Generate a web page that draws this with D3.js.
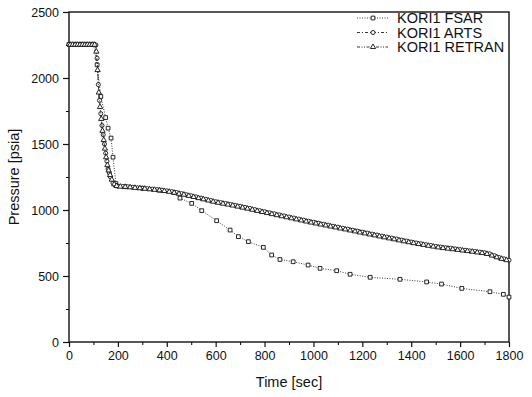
<!DOCTYPE html>
<html>
<head>
<meta charset="utf-8">
<script src="https://cdn.jsdelivr.net/npm/d3@7"></script>
<style>
body { margin: 0; background: #fff; }
text { font-family: "Liberation Sans", Arial, sans-serif; fill: #111; }
</style>
</head>
<body>
<svg id="chart" width="532" height="397"></svg>
<script>
// values
const seriesNames = ["KORI1 FSAR", "KORI1 ARTS", "KORI1 RETRAN"];
const xTicks = [0, 200, 400, 600, 800, 1000, 1200, 1400, 1600, 1800];
const yTicks = [0, 500, 1000, 1500, 2000, 2500];

// FSAR - sparse squares, the lower curve
const fsarTime = [0, 50, 100, 115, 130, 150, 160, 172, 180, 192, 230, 300, 370, 430, 454, 502, 543, 604, 659, 693, 734, 795, 829, 863, 917, 978, 1027, 1095, 1150, 1232, 1354, 1463, 1524, 1607, 1722, 1777, 1800];
const fsarPress = [2255, 2255, 2255, 2100, 1860, 1700, 1620, 1545, 1400, 1200, 1176, 1165, 1150, 1132, 1090, 1050, 995, 919, 848, 798, 760, 717, 659, 625, 608, 583, 558, 540, 513, 490, 475, 455, 439, 406, 381, 361, 340];

// ARTS - dense circles, the upper curve
const artsTime = [0, 10, 20, 30, 40, 50, 60, 70, 80, 90, 100, 110, 115, 120, 125, 130, 135, 140, 145, 150, 155, 160, 165, 170, 180, 190,
  200, 220, 240, 260, 280, 300, 320, 340, 360, 380, 400, 420, 440, 460, 480, 500, 520, 540, 560, 580, 600, 620, 640, 660, 680, 700,
  720, 740, 760, 780, 800, 820, 840, 860, 880, 900, 920, 940, 960, 980, 1000, 1020, 1040, 1060, 1080, 1100, 1120, 1140, 1160, 1180, 1200,
  1220, 1240, 1260, 1280, 1300, 1320, 1340, 1360, 1380, 1400, 1420, 1440, 1460, 1480, 1500, 1520, 1540, 1560, 1580, 1600,
  1620, 1640, 1660, 1680, 1700, 1720, 1740, 1760, 1780, 1800];
const artsPress = [2255, 2255, 2255, 2255, 2255, 2255, 2255, 2255, 2255, 2255, 2255, 2250, 2150, 1950, 1830, 1730, 1640, 1570, 1500, 1430, 1370, 1310, 1280, 1250, 1205, 1185,
  1180, 1178, 1176, 1172, 1168, 1165, 1162, 1158, 1154, 1150, 1145, 1139, 1132, 1124, 1116, 1108, 1099, 1090, 1081, 1072, 1063, 1056, 1049, 1042, 1035, 1028,
  1020, 1012, 1003, 995, 987, 979, 971, 963, 955, 947, 939, 931, 923, 915, 907, 900, 892, 885, 877, 870, 862, 855, 847, 840, 832,
  825, 817, 810, 802, 795, 787, 780, 772, 765, 757, 750, 744, 737, 731, 724, 719, 714, 710, 705, 700,
  695, 690, 686, 681, 676, 668, 654, 640, 630, 620];

// RETRAN - dense triangles, lies on top of ARTS
const retranTime = [5, 15, 25, 35, 45, 55, 65, 75, 85, 95, 105, 112, 117, 122, 127, 132, 137, 142, 147, 152, 157, 162, 168, 175, 185, 195,
  210, 230, 250, 270, 290, 310, 330, 350, 370, 390, 410, 430, 450, 470, 490, 510, 530, 550, 570, 590, 610, 630, 650, 670, 690,
  710, 730, 750, 770, 790, 810, 830, 850, 870, 890, 910, 930, 950, 970, 990, 1010, 1030, 1050, 1070, 1090, 1110, 1130, 1150, 1170, 1190,
  1210, 1230, 1250, 1270, 1290, 1310, 1330, 1350, 1370, 1390, 1410, 1430, 1450, 1470, 1490, 1510, 1530, 1550, 1570, 1590,
  1610, 1630, 1650, 1670, 1690, 1710, 1730, 1750, 1770, 1790];
const retranPress = [2252, 2252, 2252, 2252, 2252, 2252, 2252, 2252, 2252, 2252, 2252, 2200, 2060, 1890, 1780, 1690, 1600, 1530, 1465, 1400, 1340, 1300, 1265, 1230, 1195, 1182,
  1177, 1175, 1172, 1168, 1165, 1161, 1157, 1153, 1149, 1144, 1138, 1131, 1123, 1116, 1107, 1099, 1090, 1081, 1072, 1063, 1055, 1048, 1041, 1034, 1026,
  1018, 1010, 1002, 993, 985, 977, 969, 961, 953, 945, 937, 929, 921, 913, 905, 898, 890, 883, 875, 868, 860, 853, 845, 838, 830,
  823, 815, 808, 800, 793, 785, 778, 770, 763, 756, 749, 742, 736, 729, 723, 717, 712, 707, 703, 698,
  693, 689, 684, 679, 674, 667, 655, 642, 630, 620];

const series = [
  {name: seriesNames[0], t: fsarTime, p: fsarPress, symbol: d3.symbolSquare, size: 14, dash: "1,1.5"},
  {name: seriesNames[1], t: artsTime, p: artsPress, symbol: d3.symbolCircle, size: 13, dash: "3,2,1,2"},
  {name: seriesNames[2], t: retranTime, p: retranPress, symbol: d3.symbolTriangle, size: 12, dash: "3,1.5,1,1.5,1,1.5"}
];

let svg = d3.select("#chart");
let margin = {left: 69, top: 12, right: 23, bottom: 55};
let width = +svg.attr("width") - margin.left - margin.right;
let height = +svg.attr("height") - margin.top - margin.bottom;

let x = d3.scaleLinear().domain([0, 1800]).range([0, width]);
let y = d3.scaleLinear().domain([0, 2500]).range([height, 0]);

let g = svg.append("g").attr("transform", `translate(${margin.left}, ${margin.top})`);

// minor ticks first, then the labelled ones
g.append("g")
  .attr("transform", `translate(0, ${height})`)
  .call(d3.axisBottom(x).tickValues(d3.range(100, 1800, 200)).tickSize(3).tickFormat(""))
  .call(a => a.select(".domain").remove());
g.append("g")
  .call(d3.axisLeft(y).tickValues(d3.range(250, 2500, 500)).tickSize(3).tickFormat(""))
  .call(a => a.select(".domain").remove());

let xAxis = g.append("g")
  .attr("transform", `translate(0, ${height})`)
  .call(d3.axisBottom(x).tickValues(xTicks).tickSize(5).tickPadding(4).tickFormat(d3.format("d")));
let yAxis = g.append("g")
  .call(d3.axisLeft(y).tickValues(yTicks).tickSize(6).tickPadding(4).tickFormat(d3.format("d")));

for (let a of [xAxis, yAxis]) {
  a.selectAll("text").style("font-size", "12.5px").attr("font-family", null);
  a.selectAll("line").attr("stroke", "#111").attr("stroke-width", 1.2);
  a.select(".domain").remove();
}

// frame
g.append("rect")
  .attr("width", width).attr("height", height)
  .attr("fill", "none").attr("stroke", "#111").attr("stroke-width", 1.4);

let line = d3.line().x(d => x(d[0])).y(d => y(d[1]));

for (let s of series) {
  let pts = s.t.map((t, i) => [t, s.p[i]]);
  g.append("path")
    .datum(pts)
    .attr("d", line)
    .attr("fill", "none")
    .attr("stroke", "#222")
    .attr("stroke-width", 0.9)
    .attr("stroke-dasharray", s.dash);
  g.selectAll(null)
    .data(pts)
    .enter()
    .append("path")
    .attr("transform", d => `translate(${x(d[0])}, ${y(d[1])})`)
    .attr("d", d3.symbol().type(s.symbol).size(s.size))
    .attr("fill", "#fff")
    .attr("stroke", "#111")
    .attr("stroke-width", 0.9);
}

// legend
let legend = g.append("g").attr("transform", `translate(${357 - margin.left}, ${18 - margin.top})`);
series.forEach((s, i) => {
  let row = legend.append("g").attr("transform", `translate(0, ${i * 14.5})`);
  row.append("line")
    .attr("x1", 0).attr("x2", 31)
    .attr("stroke", "#222").attr("stroke-width", 0.9)
    .attr("stroke-dasharray", s.dash);
  row.append("path")
    .attr("transform", "translate(16, 0)")
    .attr("d", d3.symbol().type(s.symbol).size(s.size))
    .attr("fill", "#fff").attr("stroke", "#111").attr("stroke-width", 0.9);
  row.append("text")
    .attr("x", 40).attr("y", 5)
    .style("font-size", "14.5px")
    .text(s.name);
});

svg.append("text")
  .attr("x", margin.left + width / 2)
  .attr("y", 387)
  .attr("text-anchor", "middle")
  .style("font-size", "14.5px")
  .text("Time [sec]");

svg.append("text")
  .attr("transform", `translate(19, ${margin.top + height / 2}) rotate(-90)`)
  .attr("text-anchor", "middle")
  .style("font-size", "14.5px")
  .text("Pressure [psia]");
</script>
</body>
</html>
